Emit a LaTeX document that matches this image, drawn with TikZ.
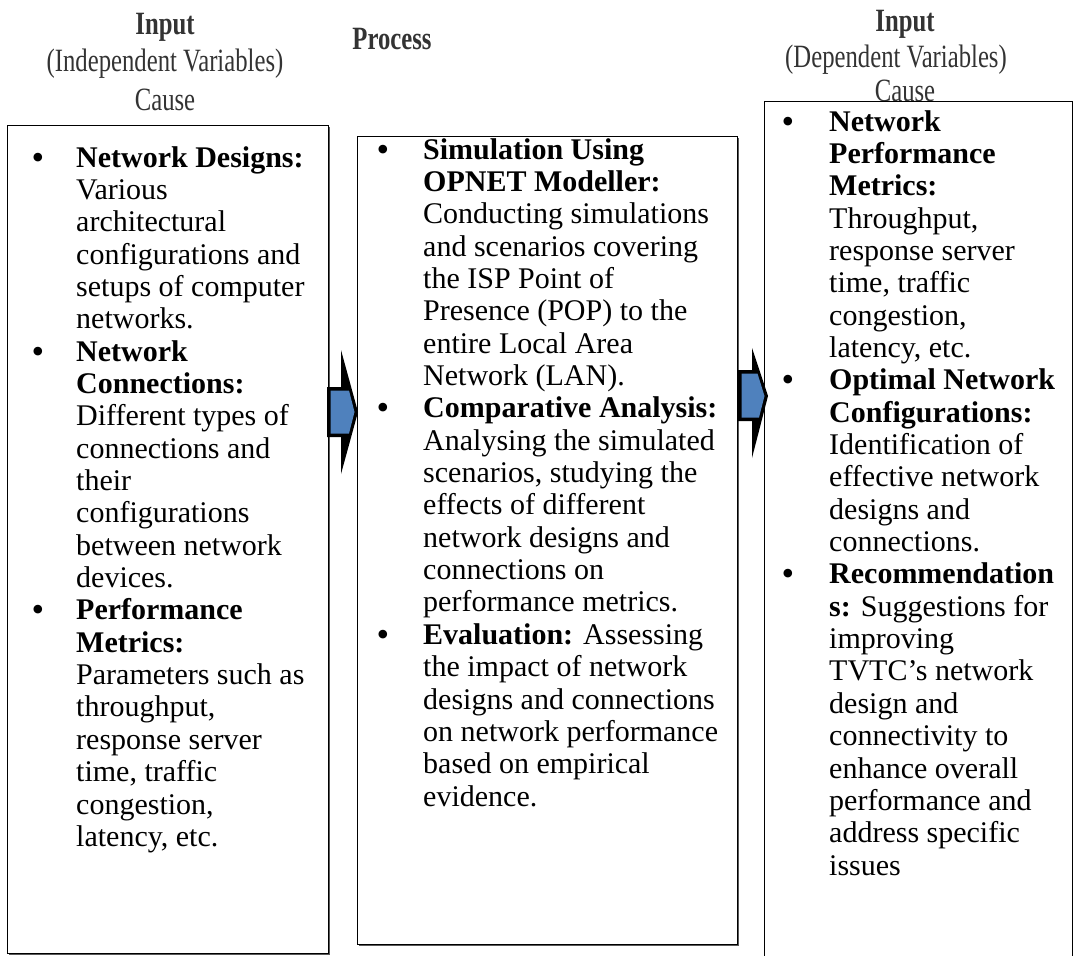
\documentclass[tikz,border=0pt]{standalone}
\usepackage{fontspec}
\setmainfont{Liberation Serif}
\newfontfamily\hdrfont[FakeStretch=0.76]{Liberation Serif}
\usetikzlibrary{shadows}
\definecolor{arrowblue}{HTML}{4F81BD}
\newcommand\bodyfont{\fontsize{30}{32.35}\selectfont}
\newcommand\bulfont{\fontsize{36}{36}\selectfont}
\newcommand\headfont{\hdrfont\fontsize{32.5}{33}\selectfont}
\newcommand\itemlines[1]{\begin{tabular}[t]{@{}l@{}}#1\end{tabular}}
\begin{document}
\begin{tikzpicture}[x=1pt,y=-1pt,
  box/.style={draw=black, line width=1.3pt, anchor=north west, inner sep=0pt, fill=white},
  shad/.style={drop shadow={shadow xshift=1.5pt, shadow yshift=-1.5pt, fill=black!65, opacity=1}},
  txt/.style={anchor=base west, inner sep=0pt, font=\bodyfont},
  bul/.style={anchor=base, inner sep=0pt, font=\bulfont},
  hdr/.style={anchor=base, inner sep=0pt, font=\headfont, text=black!80}]
\useasboundingbox (0,0) rectangle (1080,956);
\clip (0,0) rectangle (1080,956);
% headers
\node[hdr] (h1a) at (165,34) {\bfseries Input};
\node[hdr] (h1b) at (165,71) {(Independent Variables)};
\node[hdr] (h1c) at (165,110) {Cause};
\node[hdr] (h2a) at (392,49) {\bfseries Process};
\node[hdr] (h3a) at (905,31) {\bfseries Input};
\node[hdr] (h3b) at (896,67) {(Dependent Variables)};
\node[hdr] (h3c) at (905,101) {Cause};
% boxes
\node[box, shad, minimum width=321, minimum height=828] (L) at (7,125) {};
\node[box, shad, minimum width=380, minimum height=808] (M) at (357,136) {};
\node[box, minimum width=308, minimum height=870] (R) at (764,101) {};
% left column
\node[bul] (lb1) at (38,169) {•};
\node[txt] (lt1) at (76,167) {\itemlines{\textbf{Network Designs:}\\Various\\architectural\\configurations and\\setups of computer\\networks.}};
\node[bul] (lb2) at (38,363.1) {•};
\node[txt] (lt2) at (76,361.1) {\itemlines{\textbf{Network}\\\textbf{Connections:}\\Different types of\\connections and\\their\\configurations\\between network\\devices.}};
\node[bul] (lb3) at (38,621.9) {•};
\node[txt] (lt3) at (76,619.9) {\itemlines{\textbf{Performance}\\\textbf{Metrics:}\\Parameters such as\\throughput,\\response server\\time, traffic\\congestion,\\latency, etc.}};
% middle column
\node[bul] (mb1) at (383,161) {•};
\node[txt] (mt1) at (423,159) {\itemlines{\textbf{Simulation Using}\\\textbf{OPNET Modeller:}\\Conducting simulations\\and scenarios covering\\the ISP Point of\\Presence (POP) to the\\entire Local Area\\Network (LAN).}};
\node[bul] (mb2) at (383,419.8) {•};
\node[txt] (mt2) at (423,417.8) {\itemlines{\textbf{Comparative Analysis:}\\Analysing the simulated\\scenarios, studying the\\effects of different\\network designs and\\connections on\\performance metrics.}};
\node[bul] (mb3) at (383,646.3) {•};
\node[txt] (mt3) at (423,644.3) {\itemlines{\textbf{Evaluation:} Assessing\\the impact of network\\designs and connections\\on network performance\\based on empirical\\evidence.}};
% right column
\node[bul] (rb1) at (788,133) {•};
\node[txt] (rt1) at (829,131) {\itemlines{\textbf{Network}\\\textbf{Performance}\\\textbf{Metrics:}\\Throughput,\\response server\\time, traffic\\congestion,\\latency, etc.}};
\node[bul] (rb2) at (788,391.8) {•};
\node[txt] (rt2) at (829,389.8) {\itemlines{\textbf{Optimal Network}\\\textbf{Configurations:}\\Identification of\\effective network\\designs and\\connections.}};
\node[bul] (rb3) at (788,585.9) {•};
\node[txt] (rt3) at (829,583.9) {\itemlines{\textbf{Recommendation}\\\textbf{s:} Suggestions for\\improving\\TVTC's network\\design and\\connectivity to\\enhance overall\\performance and\\address specific\\issues}};
% block arrows
\fill[black] (327,387) -- (341,387) -- (341,350) -- (358,412) -- (341,474) -- (341,437) -- (327,437) -- cycle;
\fill[arrowblue] (330.5,390.5) -- (349,390.5) -- (354.5,412) -- (349,433.5) -- (330.5,433.5) -- cycle;
\fill[black] (738,370) -- (752,370) -- (752,348) -- (768,396) -- (752,458) -- (752,421) -- (738,421) -- cycle;
\fill[arrowblue] (741.5,373.5) -- (757.5,373.5) -- (764.5,396) -- (759,417.5) -- (741.5,417.5) -- cycle;
\end{tikzpicture}
\end{document}
